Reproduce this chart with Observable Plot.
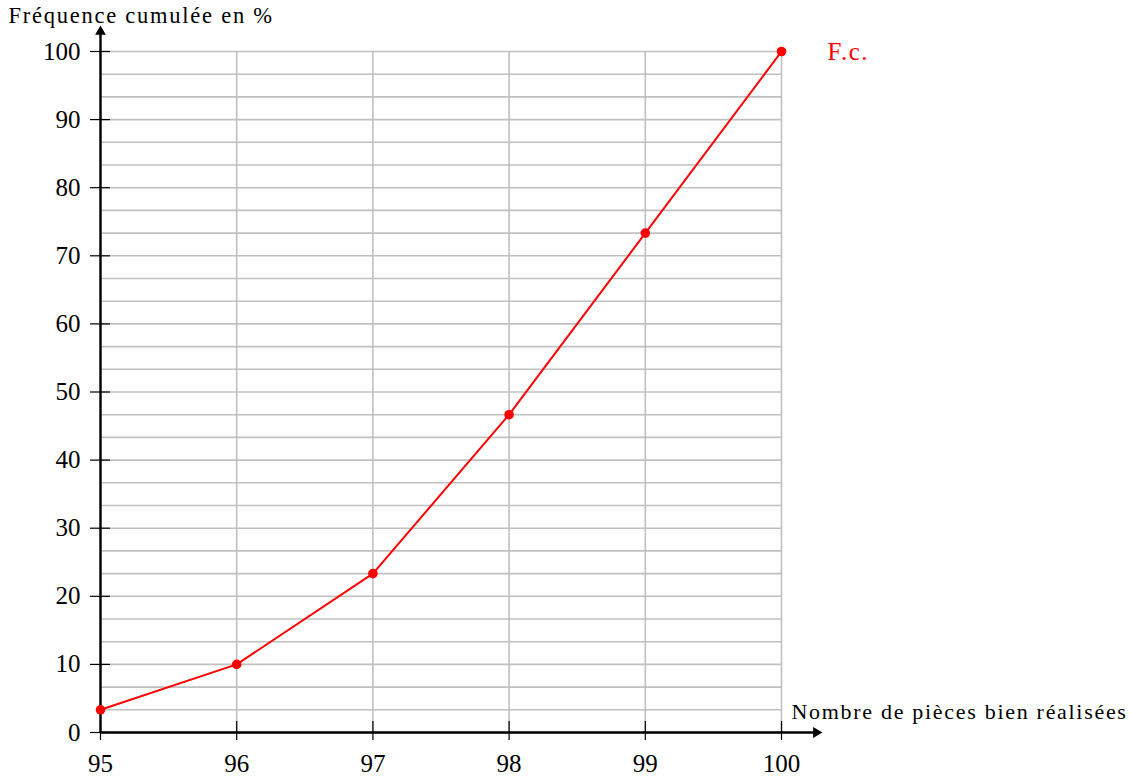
<!DOCTYPE html>
<html>
<head>
<meta charset="utf-8">
<script src="https://cdn.jsdelivr.net/npm/d3@7"></script>
<script src="https://cdn.jsdelivr.net/npm/@observablehq/plot@0.6"></script>
<style>
  html, body { margin: 0; padding: 0; background: #fff; }
  .ytitle text { letter-spacing: 1.75px; }
  .xtitle text { letter-spacing: 1.7px; }
  .fclabel text { letter-spacing: 1.5px; }
</style>
</head>
<body>
<div id="chart"></div>
<script>
const xValues = [95, 96, 97, 98, 99, 100];
const fcValues = [3.33, 10, 23.33, 46.67, 73.33, 100];
const xTicks = [95, 96, 97, 98, 99, 100];
const yTicks = [0, 10, 20, 30, 40, 50, 60, 70, 80, 90, 100];
const yGrid = d3.range(0, 31).map(i => i * 10 / 3);
const yTitle = "Fréquence cumulée en %";
const xTitle = "Nombre de pièces bien réalisées";
const seriesLabel = "F.c.";

const data = xValues.map((x, i) => ({x, y: fcValues[i]}));

const font = "'Liberation Serif', 'DejaVu Serif', serif";

const chart = Plot.plot({
  width: 1130,
  height: 778,
  marginTop: 51,
  marginRight: 349,
  marginBottom: 46,
  marginLeft: 100,
  style: {fontFamily: font, background: "#fff", overflow: "visible"},
  x: {domain: [95, 100], axis: null},
  y: {domain: [0, 100], axis: null},
  marks: [
    Plot.gridY(yGrid, {stroke: "#c0c0c0", strokeOpacity: 1, strokeWidth: 1.6}),
    Plot.gridX(xTicks, {stroke: "#c0c0c0", strokeOpacity: 1, strokeWidth: 1.6}),
    // axis lines
    Plot.link([0], {x1: 95, y1: 0, x2: 100.24, y2: 0, stroke: "black", strokeWidth: 2.4, clip: false}),
    Plot.link([0], {x1: 95, y1: 0, x2: 95, y2: 102.6, stroke: "black", strokeWidth: 2.4, clip: false}),
    Plot.dot([0], {x: 100.255, y: 0, symbol: "triangle", r: 4, fill: "black", stroke: "none", rotate: 90}),
    Plot.dot([0], {x: 95, y: 102.9, symbol: "triangle", r: 4, fill: "black", stroke: "none"}),
    // tick marks
    Plot.ruleY(yTicks, {y: d => d, x1: 95, x2: 95, insetLeft: -10, insetRight: -10, stroke: "black", strokeWidth: 1.2}),
    Plot.ruleX(xTicks, {x: d => d, y1: 0, y2: 0, insetTop: -11, insetBottom: -8, stroke: "black", strokeWidth: 1.2}),
    // tick labels
    Plot.text(yTicks, {x: 95, y: d => d, text: d => String(d), dx: -20, textAnchor: "end", fontSize: 25, fill: "black"}),
    Plot.text(xTicks, {x: d => d, y: 0, text: d => String(d), dy: 31, fontSize: 25, fill: "black"}),
    // series
    Plot.line(data, {x: "x", y: "y", stroke: "red", strokeWidth: 2}),
    Plot.dot(data, {x: "x", y: "y", r: 4.8, fill: "red", stroke: "none"}),
    Plot.text([seriesLabel], {x: 100, y: 100, text: d => d, dx: 46, textAnchor: "start", fontSize: 25, fill: "red", className: "fclabel"}),
    // titles
    Plot.text([yTitle], {frameAnchor: "top-left", text: d => d, dx: -92, dy: -44, textAnchor: "start", lineAnchor: "top", fontSize: 22.5, fill: "black", className: "ytitle"}),
    Plot.text([xTitle], {x: 100, y: 0, text: d => d, dx: 10, dy: -21, textAnchor: "start", fontSize: 22, fill: "black", className: "xtitle"})
  ]
});
document.getElementById("chart").appendChild(chart);
</script>
</body>
</html>
